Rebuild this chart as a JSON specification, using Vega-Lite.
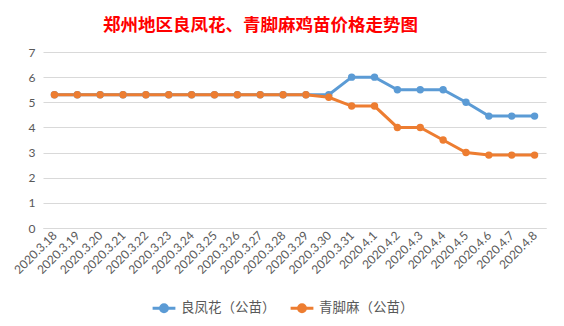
{
  "$schema": "https://vega.github.io/schema/vega-lite/v6.json",
  "autosize": "none",
  "width": 503,
  "height": 176,
  "padding": {"left": 43, "top": 52, "right": 18, "bottom": 98},
  "background": "white",
  "title": {
    "text": "郑州地区良凤花、青脚麻鸡苗价格走势图",
    "color": "#FF0000",
    "font": "Noto Sans CJK SC",
    "fontSize": 17.5,
    "fontWeight": "bold",
    "anchor": "middle",
    "frame": "group",
    "dx": -34,
    "offset": 12
  },
  "config": {
    "view": {"stroke": null},
    "font": "Lato"
  },
  "data": {
    "values": [
      {"date": "2020.3.18", "series": "良凤花（公苗）", "price": 5.3},
      {"date": "2020.3.19", "series": "良凤花（公苗）", "price": 5.3},
      {"date": "2020.3.20", "series": "良凤花（公苗）", "price": 5.3},
      {"date": "2020.3.21", "series": "良凤花（公苗）", "price": 5.3},
      {"date": "2020.3.22", "series": "良凤花（公苗）", "price": 5.3},
      {"date": "2020.3.23", "series": "良凤花（公苗）", "price": 5.3},
      {"date": "2020.3.24", "series": "良凤花（公苗）", "price": 5.3},
      {"date": "2020.3.25", "series": "良凤花（公苗）", "price": 5.3},
      {"date": "2020.3.26", "series": "良凤花（公苗）", "price": 5.3},
      {"date": "2020.3.27", "series": "良凤花（公苗）", "price": 5.3},
      {"date": "2020.3.28", "series": "良凤花（公苗）", "price": 5.3},
      {"date": "2020.3.29", "series": "良凤花（公苗）", "price": 5.3},
      {"date": "2020.3.30", "series": "良凤花（公苗）", "price": 5.3},
      {"date": "2020.3.31", "series": "良凤花（公苗）", "price": 6.0},
      {"date": "2020.4.1", "series": "良凤花（公苗）", "price": 6.0},
      {"date": "2020.4.2", "series": "良凤花（公苗）", "price": 5.5},
      {"date": "2020.4.3", "series": "良凤花（公苗）", "price": 5.5},
      {"date": "2020.4.4", "series": "良凤花（公苗）", "price": 5.5},
      {"date": "2020.4.5", "series": "良凤花（公苗）", "price": 5.0},
      {"date": "2020.4.6", "series": "良凤花（公苗）", "price": 4.45},
      {"date": "2020.4.7", "series": "良凤花（公苗）", "price": 4.45},
      {"date": "2020.4.8", "series": "良凤花（公苗）", "price": 4.45},
      {"date": "2020.3.18", "series": "青脚麻（公苗）", "price": 5.3},
      {"date": "2020.3.19", "series": "青脚麻（公苗）", "price": 5.3},
      {"date": "2020.3.20", "series": "青脚麻（公苗）", "price": 5.3},
      {"date": "2020.3.21", "series": "青脚麻（公苗）", "price": 5.3},
      {"date": "2020.3.22", "series": "青脚麻（公苗）", "price": 5.3},
      {"date": "2020.3.23", "series": "青脚麻（公苗）", "price": 5.3},
      {"date": "2020.3.24", "series": "青脚麻（公苗）", "price": 5.3},
      {"date": "2020.3.25", "series": "青脚麻（公苗）", "price": 5.3},
      {"date": "2020.3.26", "series": "青脚麻（公苗）", "price": 5.3},
      {"date": "2020.3.27", "series": "青脚麻（公苗）", "price": 5.3},
      {"date": "2020.3.28", "series": "青脚麻（公苗）", "price": 5.3},
      {"date": "2020.3.29", "series": "青脚麻（公苗）", "price": 5.3},
      {"date": "2020.3.30", "series": "青脚麻（公苗）", "price": 5.2},
      {"date": "2020.3.31", "series": "青脚麻（公苗）", "price": 4.85},
      {"date": "2020.4.1", "series": "青脚麻（公苗）", "price": 4.85},
      {"date": "2020.4.2", "series": "青脚麻（公苗）", "price": 4.0},
      {"date": "2020.4.3", "series": "青脚麻（公苗）", "price": 4.0},
      {"date": "2020.4.4", "series": "青脚麻（公苗）", "price": 3.5},
      {"date": "2020.4.5", "series": "青脚麻（公苗）", "price": 3.0},
      {"date": "2020.4.6", "series": "青脚麻（公苗）", "price": 2.9},
      {"date": "2020.4.7", "series": "青脚麻（公苗）", "price": 2.9},
      {"date": "2020.4.8", "series": "青脚麻（公苗）", "price": 2.9}
    ]
  },
  "mark": {"type": "line", "strokeWidth": 3, "point": {"size": 55, "filled": true, "opacity": 1}},
  "encoding": {
    "x": {
      "field": "date",
      "type": "ordinal",
      "sort": null,
      "scale": {"type": "point", "padding": 0.5},
      "axis": {
        "title": null,
        "labelAngle": -45,
        "labelAlign": "right",
        "labelBaseline": "middle",
        "labelColor": "#595959",
        "labelFontSize": 12,
        "labelPadding": 5,
        "ticks": false,
        "domainColor": "#D9D9D9",
        "grid": false
      }
    },
    "y": {
      "field": "price",
      "type": "quantitative",
      "scale": {"domain": [0, 7], "nice": false},
      "axis": {
        "title": null,
        "values": [0, 1, 2, 3, 4, 5, 6, 7],
        "labelColor": "#595959",
        "labelFontSize": 12,
        "labelPadding": 8,
        "ticks": false,
        "domain": false,
        "gridColor": "#D9D9D9",
        "gridWidth": 1
      }
    },
    "color": {
      "field": "series",
      "type": "nominal",
      "sort": null,
      "scale": {"range": ["#5B9BD5", "#ED7D31"]},
      "legend": {
        "title": null,
        "orient": "none",
        "direction": "horizontal",
        "legendX": 108,
        "legendY": 243,
        "symbolType": "M -1 0 L 1 0 M -0.3 0 A 0.3 0.3 0 1 1 0.3 0 A 0.3 0.3 0 1 1 -0.3 0",
        "symbolSize": 520,
        "symbolStrokeWidth": 3,
        "labelFont": "Noto Sans CJK SC",
        "labelFontSize": 13.5,
        "labelColor": "#595959",
        "labelOffset": 4,
        "columnPadding": 8,
        "encode": {
          "symbols": {"update": {"fill": {"scale": "color", "field": "value"}, "fillOpacity": {"value": 1}}}
        }
      }
    }
  }
}
